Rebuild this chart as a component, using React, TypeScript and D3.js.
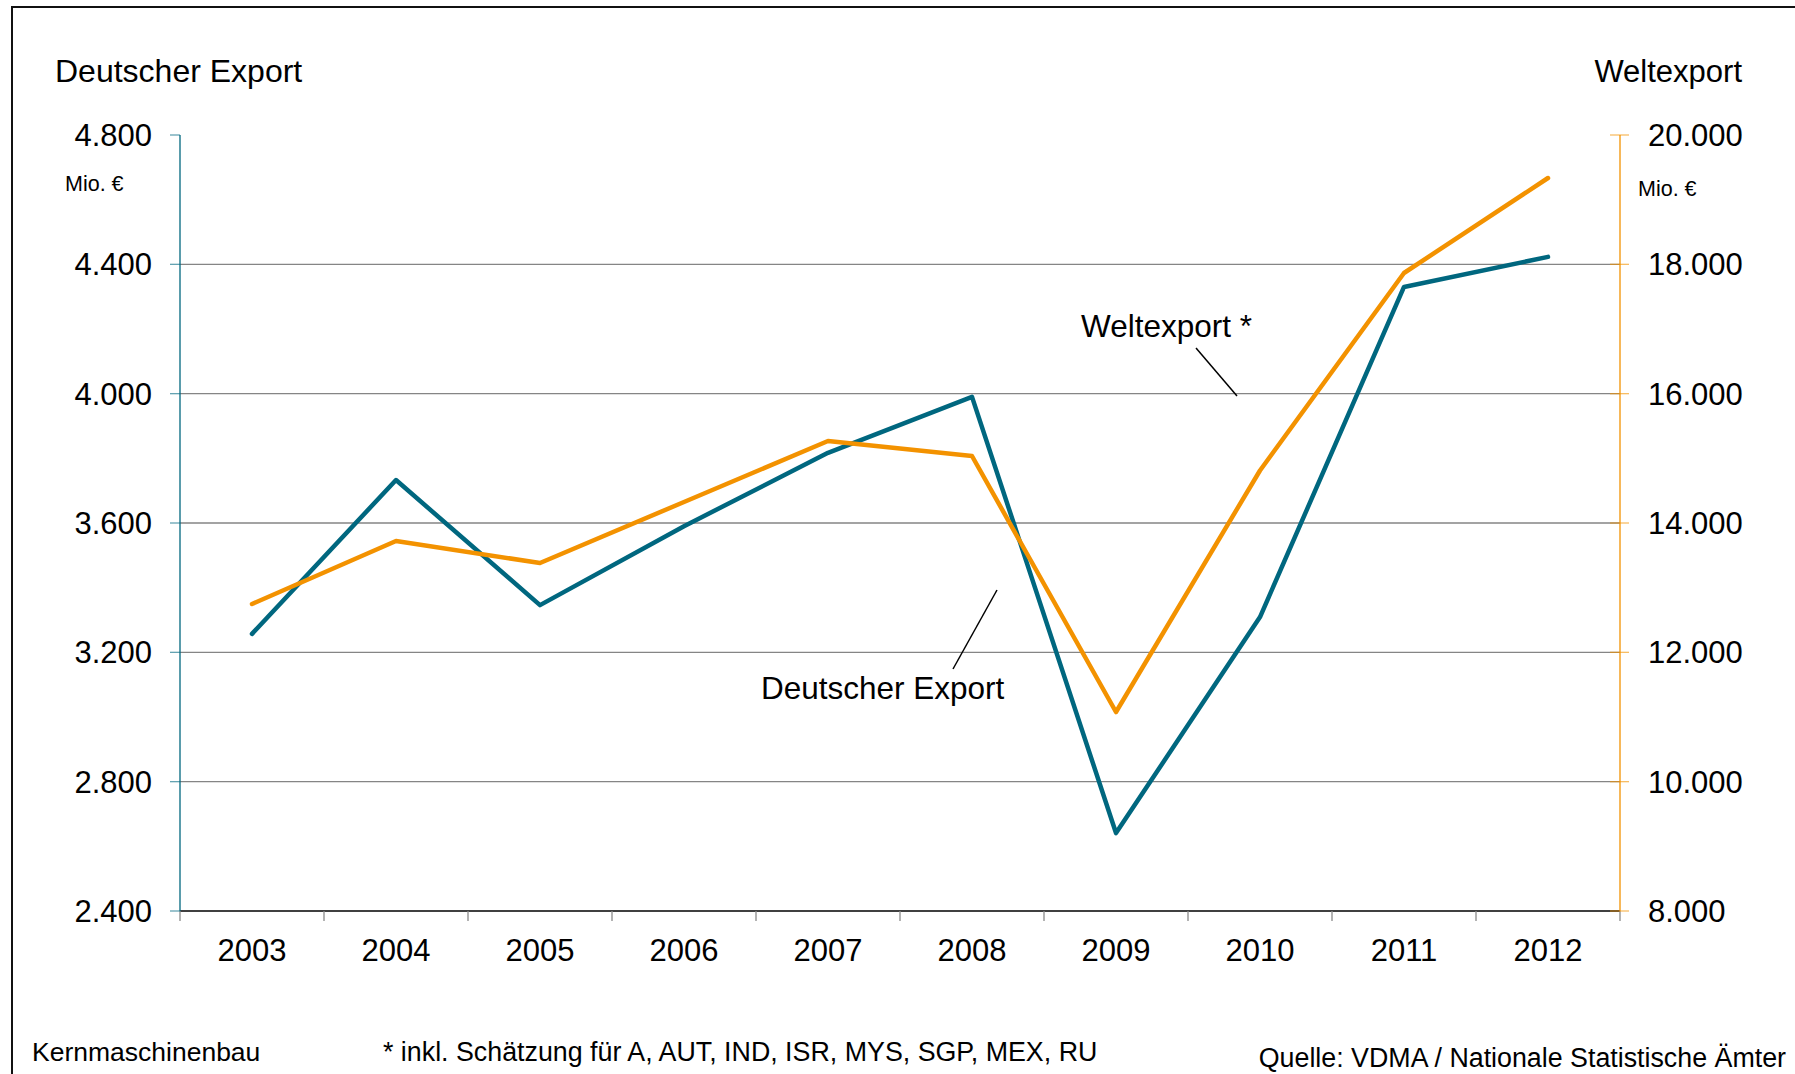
import React from 'react';
import * as d3 from 'd3';

// categories and series
const years = ['2003', '2004', '2005', '2006', '2007', '2008', '2009', '2010', '2011', '2012'];
const deutscherExport = [3257, 3733, 3346, 3590, 3817, 3990, 2641, 3309, 4330, 4423];
const weltExport = [12747, 13722, 13381, 14325, 15268, 15036, 11077, 14812, 17866, 19335];

// tick values for both axes
const leftTicks = [2400, 2800, 3200, 3600, 4000, 4400, 4800];
const rightTicks = [8000, 10000, 12000, 14000, 16000, 18000, 20000];

const W = 1795;
const H = 1074;
const plot = { left: 180, right: 1620, top: 135, bottom: 911 };

const TEAL = '#00677f';
const ORANGE = '#f39200';
const FONT = 'Liberation Sans, Arial, sans-serif';

const de = d3.formatLocale({ decimal: ',', thousands: '.', grouping: [3], currency: ['', ' €'] });
const fmt = de.format(',.0f');

export default function App() {
  const x = d3.scaleBand<string>().domain(years).range([plot.left, plot.right]);
  const yL = d3.scaleLinear().domain([2400, 4800]).range([plot.bottom, plot.top]);
  const yR = d3.scaleLinear().domain([8000, 20000]).range([plot.bottom, plot.top]);
  const cx = (yr: string) => (x(yr) ?? 0) + x.bandwidth() / 2;

  const lineL = d3.line<number>().x((_, i) => cx(years[i])).y(d => yL(d));
  const lineR = d3.line<number>().x((_, i) => cx(years[i])).y(d => yR(d));

  const bounds = [...years.map(yr => x(yr) ?? 0), plot.right];

  return (
    <svg width={W} height={H} style={{ position: 'absolute', left: 0, top: 0, background: '#fff' }}
      fontFamily={FONT}>
      <rect x={0} y={0} width={W} height={H} fill="#fff" />
      {/* frame */}
      <path d={`M12,${H + 5} V7 H${W + 5}`} fill="none" stroke="#111" strokeWidth={2} />

      {/* gridlines */}
      {leftTicks.filter(t => t !== 2400 && t !== 4800).map(t => (
        <line key={t} x1={plot.left} x2={plot.right} y1={yL(t)} y2={yL(t)} stroke="#858585" strokeWidth={1.3} />
      ))}

      {/* bottom axis */}
      <line x1={plot.left} x2={plot.right} y1={plot.bottom} y2={plot.bottom} stroke="#000" strokeWidth={1.3} />
      {bounds.map((bx, i) => (
        <line key={i} x1={bx} x2={bx} y1={plot.bottom} y2={plot.bottom + 10} stroke="#8a8a8a" strokeWidth={1.3} />
      ))}
      {years.map(yr => (
        <text key={yr} x={cx(yr)} y={961} textAnchor="middle" fontSize={31} fill="#000">{yr}</text>
      ))}

      {/* left axis */}
      <line x1={plot.left} x2={plot.left} y1={plot.top} y2={plot.bottom} stroke={TEAL} strokeWidth={1.3} />
      {leftTicks.map(t => (
        <g key={t}>
          <line x1={plot.left - 10} x2={plot.left} y1={yL(t)} y2={yL(t)} stroke={TEAL} strokeWidth={1.3} opacity={0.6} />
          <text x={152} y={yL(t) + 11} textAnchor="end" fontSize={31} fill="#000">{fmt(t)}</text>
        </g>
      ))}

      {/* right axis */}
      <line x1={plot.right} x2={plot.right} y1={plot.top} y2={plot.bottom} stroke={ORANGE} strokeWidth={1.3} />
      {rightTicks.map(t => (
        <g key={t}>
          <line x1={plot.right - 10} x2={plot.right + 9} y1={yR(t)} y2={yR(t)} stroke={ORANGE} strokeWidth={1.3} opacity={0.6} />
          <text x={1648} y={yR(t) + 11} textAnchor="start" fontSize={31} fill="#000">{fmt(t)}</text>
        </g>
      ))}

      {/* series */}
      <path d={lineL(deutscherExport) ?? ''} fill="none" stroke={TEAL} strokeWidth={4.5} strokeLinejoin="round" strokeLinecap="round" />
      <path d={lineR(weltExport) ?? ''} fill="none" stroke={ORANGE} strokeWidth={4.5} strokeLinejoin="round" strokeLinecap="round" />

      {/* axis titles */}
      <text x={55} y={82} fontSize={32} fill="#000">Deutscher Export</text>
      <text x={1742} y={82} fontSize={31} textAnchor="end" fill="#000">Weltexport</text>
      <text x={65} y={191} fontSize={21.5} fill="#000">Mio. €</text>
      <text x={1638} y={196} fontSize={21.5} fill="#000">Mio. €</text>

      {/* annotations */}
      <text x={1081} y={337} fontSize={31.5} fill="#000">Weltexport *</text>
      <line x1={1196} y1={348} x2={1237} y2={396} stroke="#000" strokeWidth={1.5} />
      <text x={761} y={699} fontSize={31.5} fill="#000">Deutscher Export</text>
      <line x1={997} y1={590} x2={953} y2={669} stroke="#000" strokeWidth={1.5} />

      {/* footer */}
      <text x={32} y={1061} fontSize={26.5} fill="#000">Kernmaschinenbau</text>
      <text x={383} y={1061} fontSize={26.8} fill="#000">* inkl. Schätzung für A, AUT, IND, ISR, MYS, SGP, MEX, RU</text>
      <text x={1786} y={1067} fontSize={26.8} textAnchor="end" fill="#000">Quelle: VDMA / Nationale Statistische Ämter</text>
    </svg>
  );
}
